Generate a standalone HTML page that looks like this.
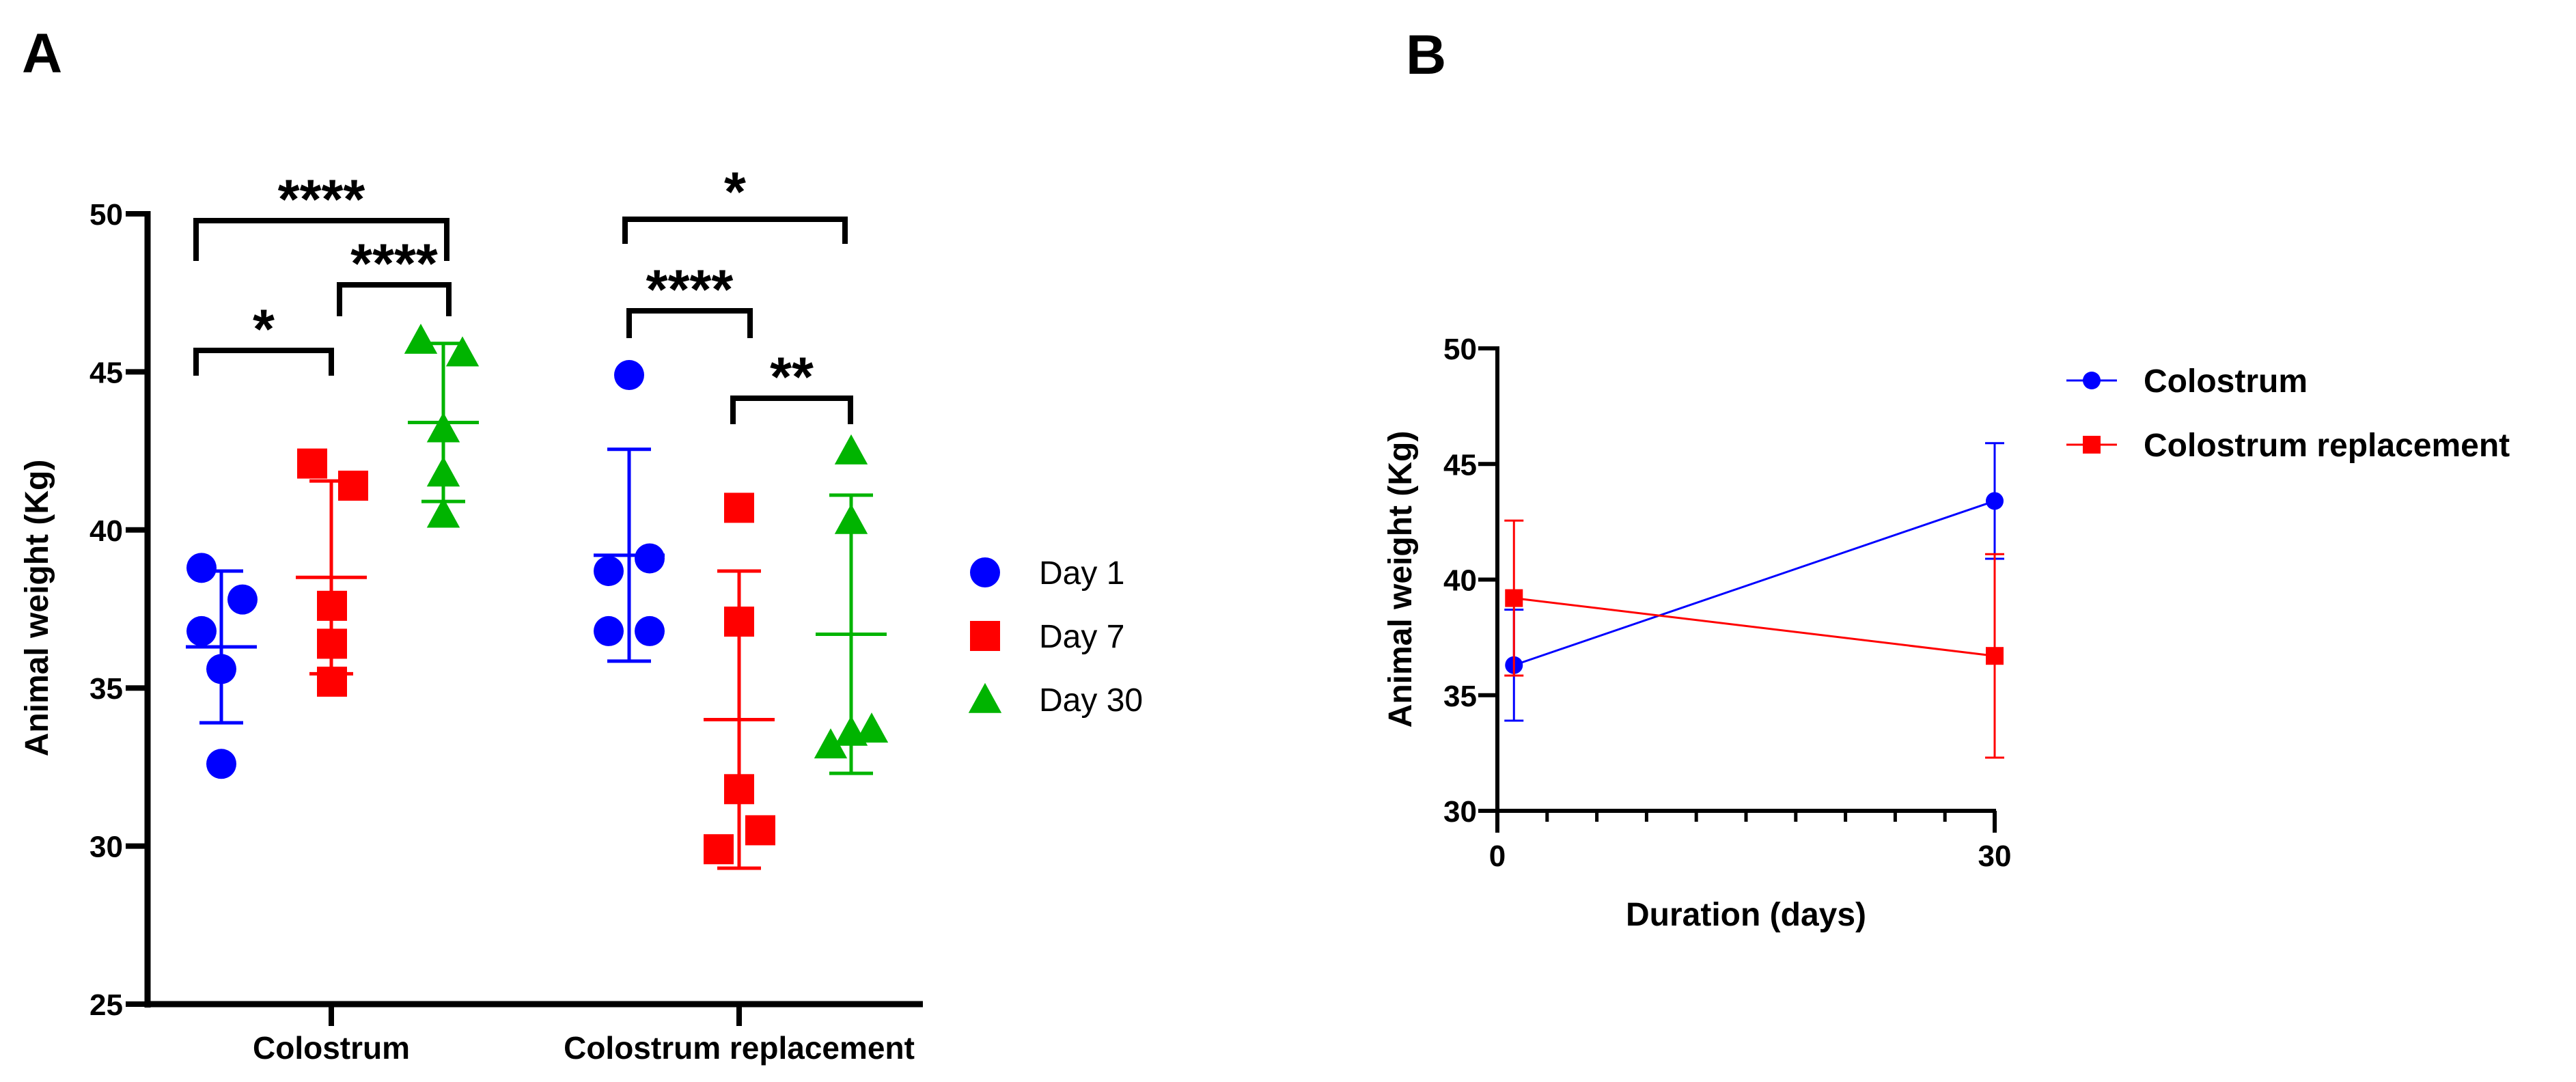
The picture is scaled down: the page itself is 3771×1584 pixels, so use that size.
<!DOCTYPE html>
<html><head><meta charset="utf-8"><style>
html,body{margin:0;padding:0;background:#fff;}
svg{display:block;font-family:"Liberation Sans",Arial,sans-serif;}
</style></head><body>
<svg id="fig" width="3771" height="1584" viewBox="0 0 3771 1584" xmlns="http://www.w3.org/2000/svg">
<text x="32" y="106" font-size="82" font-weight="bold">A</text>
<text x="2058" y="108" font-size="82" font-weight="bold">B</text>
<g id="A"></g>
<g id="B"></g>
</svg>
<script>
const NS='http://www.w3.org/2000/svg';
// ---- Panel A data ----
const groupsA=['Colostrum','Colostrum replacement'];
const daysA=['Day 1','Day 7','Day 30'];
const colC_d1=[38.8,37.8,36.8,35.6,32.6];
const colC_d7=[42.1,41.4,37.6,36.4,35.2];
const colC_d30=[46.0,45.6,43.2,41.8,40.5];
const colR_d1=[44.9,39.1,38.7,36.8,36.8];
const colR_d7=[40.7,37.1,31.8,30.5,29.9];
const colR_d30=[42.5,40.3,33.7,33.6,33.2];
const meanA=[[36.3,38.5,43.4],[39.2,34.0,36.7]];
const sdA=[[2.4,3.05,2.5],[3.35,4.7,4.4]];
const yTicksA=[25,30,35,40,45,50];
const sigLabels=['*','****','****','*','****','**'];
// ---- Panel B data ----
const daysB=[1,30];
const colostrumMean=[36.3,43.4];
const colostrumSD=[2.4,2.5];
const replMean=[39.2,36.7];
const replSD=[3.35,4.4];
const yTicksB=[30,35,40,45,50];
const xTicksB=[0,30];

function el(tag,attrs,parent,txt){const e=document.createElementNS(NS,tag);for(const k in attrs)e.setAttribute(k,attrs[k]);if(txt!==undefined)e.textContent=txt;parent.appendChild(e);return e;}
const colors=['#0000ff','#ff0000','#00b400'];
const A=document.getElementById('A');
const yA=v=>1470-(v-25)*46.28;
const catX=[485,1082];
const offA=[-161,0,164];
const ax0=216;
let e=el('line',{x1:ax0,y1:yA(50)-4,x2:ax0,y2:yA(25)+5,stroke:'#000','stroke-width':9},A);

e=el('line',{x1:ax0-4,y1:yA(25),x2:1351,y2:yA(25),stroke:'#000','stroke-width':9},A);

yTicksA.forEach(t=>{
 let l=el('line',{x1:ax0-32,y1:yA(t),x2:ax0,y2:yA(t),stroke:'#000','stroke-width':8},A);
 
 let tx=el('text',{x:ax0-36,y:yA(t)+16,'font-size':44,'font-weight':'bold','text-anchor':'end'},A,String(t));
 
});
groupsA.forEach((g,i)=>{
 let l=el('line',{x1:catX[i],y1:yA(25),x2:catX[i],y2:yA(25)+32,stroke:'#000','stroke-width':8},A);
 
 let tx=el('text',{x:catX[i],y:1550,'font-size':46,'font-weight':'bold','text-anchor':'middle'},A,g);
 
});
let yt=el('text',{x:0,y:0,'font-size':48,'font-weight':'bold','text-anchor':'middle',transform:'translate(70,890) rotate(-90)'},A,'Animal weight (Kg)');


const pts=[[colC_d1,colC_d7,colC_d30],[colR_d1,colR_d7,colR_d30]];
const jit=[[[-29,31,-29,0,0],[-28,32,1,1,1],[-33,28,0,0,0]],[[0,30,-30,-30,30],[0,0,0,31,-30],[0,0,30,0,-30]]];
function marker(parent,kind,cx,cy,s,col){
 if(kind===0)return el('circle',{cx:cx,cy:cy,r:s/2,fill:col},parent);
 if(kind===1)return el('rect',{x:cx-s/2,y:cy-s/2,width:s,height:s,fill:col},parent);
 return el('polygon',{points:`${cx},${cy-s*0.55} ${cx-s*0.55},${cy+s*0.45} ${cx+s*0.55},${cy+s*0.45}`,fill:col},parent);
}
for(let g=0;g<2;g++)for(let d=0;d<3;d++){
 const cx=catX[g]+offA[d],col=colors[d];
 const m=meanA[g][d],s=sdA[g][d];
 let v=el('line',{x1:cx,y1:yA(m+s),x2:cx,y2:yA(m-s),stroke:col,'stroke-width':5},A);
 
 [m+s,m-s].forEach(c=>{let cp=el('line',{x1:cx-32,y1:yA(c),x2:cx+32,y2:yA(c),stroke:col,'stroke-width':5},A);
  });
 let ml=el('line',{x1:cx-52,y1:yA(m),x2:cx+52,y2:yA(m),stroke:col,'stroke-width':5},A);
 
 pts[g][d].forEach((val,k)=>{
  const mk=marker(A,d,cx+jit[g][d][k],yA(val),44,col);
  
 });
}
const br=[[287,485,513,550,0],[497,657,417,463,1],[287,654,323,382,2],[915,1237,321,357,3],[921,1098,455,495,4],[1073,1245,583,621,5]];
br.forEach(b=>{
 let p=el('path',{d:`M${b[0]},${b[3]} V${b[2]} H${b[1]} V${b[3]}`,fill:'none',stroke:'#000','stroke-width':8},A);
 
 let t=el('text',{x:(b[0]+b[1])/2,y:b[2]+(b[4]===3?-12:-3),'font-size':82,'font-weight':'bold','text-anchor':'middle'},A,sigLabels[b[4]]);
 
});
daysA.forEach((d,i)=>{
 const y=838+i*93;
 let m=marker(A,i,1442,y,44,colors[i]);
 
 let t=el('text',{x:1521,y:y+17,'font-size':48},A,d);
 
});

// ---- Panel B ----
const B=document.getElementById('B');
const bx0=2192;
const yB=v=>1187-(v-30)*33.85;
const xB=v=>bx0+v*(2920-bx0)/30;
e=el('line',{x1:bx0,y1:yB(50)-3,x2:bx0,y2:yB(30)+3,stroke:'#000','stroke-width':6},B);

e=el('line',{x1:bx0-3,y1:yB(30),x2:2922,y2:yB(30),stroke:'#000','stroke-width':6},B);

yTicksB.forEach(t=>{
 let l=el('line',{x1:bx0-28,y1:yB(t),x2:bx0,y2:yB(t),stroke:'#000','stroke-width':6},B);
 
 let tx=el('text',{x:bx0-30,y:yB(t)+16,'font-size':44,'font-weight':'bold','text-anchor':'end'},B,String(t));
 
});
for(let d=3;d<30;d+=3){let l=el('line',{x1:xB(d),y1:yB(30),x2:xB(d),y2:yB(30)+16,stroke:'#000','stroke-width':5},B);
 }
xTicksB.forEach(t=>{
 let l=el('line',{x1:xB(t),y1:yB(30),x2:xB(t),y2:yB(30)+32,stroke:'#000','stroke-width':6},B);
 
 let tx=el('text',{x:xB(t),y:1268,'font-size':44,'font-weight':'bold','text-anchor':'middle'},B,String(t));
 
});
let xt=el('text',{x:2556,y:1355,'font-size':48,'font-weight':'bold','text-anchor':'middle'},B,'Duration (days)');

let ytb=el('text',{x:0,y:0,'font-size':48,'font-weight':'bold','text-anchor':'middle',transform:'translate(2066,848) rotate(-90)'},B,'Animal weight (Kg)');

const series=[[colostrumMean,colostrumSD,'#0000ff',0,'Colostrum'],[replMean,replSD,'#ff0000',1,'Colostrum replacement']];
series.forEach((s,si)=>{
 const pts=daysB.map((d,i)=>[xB(d),yB(s[0][i])]);
 let pl=el('polyline',{points:pts.map(p=>p.join(',')).join(' '),fill:'none',stroke:s[2],'stroke-width':3},B);
 
 daysB.forEach((d,i)=>{
  const x=xB(d),m=s[0][i],sd=s[1][i];
  let v=el('line',{x1:x,y1:yB(m+sd),x2:x,y2:yB(m-sd),stroke:s[2],'stroke-width':3},B);
  
  [m+sd,m-sd].forEach(c=>{let cp=el('line',{x1:x-14,y1:yB(c),x2:x+14,y2:yB(c),stroke:s[2],'stroke-width':3},B);
   });
  let mk=marker(B,s[3],x,yB(m),26,s[2]);
  
 });
 const ly=557+si*94;
 let ll=el('line',{x1:3025,y1:ly,x2:3099,y2:ly,stroke:s[2],'stroke-width':3},B);
 
 let lm=marker(B,s[3],3062,ly,26,s[2]);
 
 let lt=el('text',{x:3138,y:ly+17,'font-size':48,'font-weight':'bold'},B,s[4]);
 
});
</script>
</body></html>
